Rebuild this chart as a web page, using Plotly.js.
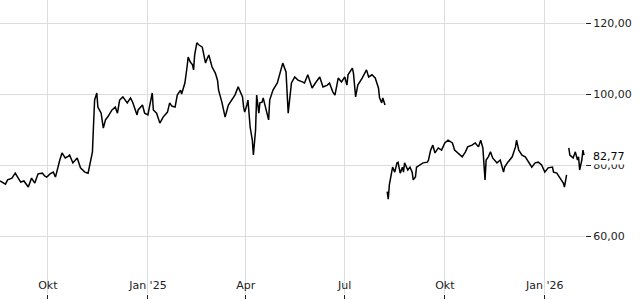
<!DOCTYPE html>
<html>
<head>
<meta charset="utf-8">
<script src="https://cdn.plot.ly/plotly-3.0.1.min.js"></script>
<style>
html,body{margin:0;padding:0;background:#fff;}
#chart{width:640px;height:300px;}
</style>
</head>
<body>
<div id="chart"></div>
<script>
const dates = [
"2024-08-18","2024-08-21","2024-08-23","2024-08-25","2024-08-29","2024-09-01","2024-09-04","2024-09-06","2024-09-09","2024-09-13",
"2024-09-16","2024-09-19","2024-09-22","2024-09-26","2024-09-28","2024-09-30","2024-10-03","2024-10-06","2024-10-08","2024-10-10",
"2024-10-12","2024-10-14","2024-10-17","2024-10-20","2024-10-21","2024-10-24","2024-10-26","2024-10-28","2024-10-31","2024-11-02",
"2024-11-04","2024-11-07","2024-11-09","2024-11-11","2024-11-12","2024-11-13","2024-11-15","2024-11-16","2024-11-19","2024-11-21",
"2024-11-23","2024-11-25","2024-11-29","2024-12-02","2024-12-04","2024-12-06","2024-12-09","2024-12-13","2024-12-16","2024-12-18",
"2024-12-22","2024-12-23","2024-12-27","2024-12-29","2025-01-01","2025-01-05","2025-01-06","2025-01-09","2025-01-12","2025-01-15",
"2025-01-19","2025-01-21","2025-01-23","2025-01-26","2025-01-28","2025-01-31","2025-02-01","2025-02-04","2025-02-06","2025-02-07",
"2025-02-09","2025-02-11","2025-02-12","2025-02-13","2025-02-15","2025-02-17","2025-02-20","2025-02-21","2025-02-23","2025-02-24",
"2025-02-26","2025-03-01","2025-03-04","2025-03-06","2025-03-07","2025-03-10","2025-03-13","2025-03-16","2025-03-19","2025-03-22",
"2025-03-25","2025-03-27","2025-03-29","2025-03-30","2025-03-31","2025-04-02","2025-04-03","2025-04-05","2025-04-07","2025-04-08",
"2025-04-10","2025-04-11","2025-04-13","2025-04-14","2025-04-16","2025-04-17","2025-04-19","2025-04-21","2025-04-22","2025-04-23",
"2025-04-26","2025-04-30","2025-05-02","2025-05-05","2025-05-08","2025-05-10","2025-05-11","2025-05-13","2025-05-16","2025-05-19",
"2025-05-23","2025-05-25","2025-05-28","2025-06-01","2025-06-04","2025-06-08","2025-06-11","2025-06-15","2025-06-17","2025-06-20",
"2025-06-22","2025-06-25","2025-06-28","2025-07-01","2025-07-03","2025-07-04","2025-07-08","2025-07-09","2025-07-11","2025-07-13",
"2025-07-17","2025-07-20","2025-07-21","2025-07-23","2025-07-26","2025-07-29","2025-07-31","2025-08-01","2025-08-02","2025-08-04",
"2025-08-05","2025-08-07","2025-08-08",
"2025-08-09","2025-08-10","2025-08-11","2025-08-13","2025-08-14","2025-08-16","2025-08-18","2025-08-19","2025-08-21","2025-08-23",
"2025-08-24","2025-08-25","2025-08-28","2025-08-30","2025-09-01","2025-09-02","2025-09-04","2025-09-05","2025-09-08","2025-09-11",
"2025-09-15","2025-09-16","2025-09-18","2025-09-20","2025-09-22","2025-09-25","2025-09-28","2025-10-01","2025-10-04","2025-10-08",
"2025-10-10","2025-10-13","2025-10-17","2025-10-20","2025-10-22","2025-10-26","2025-10-29","2025-11-01","2025-11-03","2025-11-05",
"2025-11-07","2025-11-08","2025-11-10","2025-11-12","2025-11-14","2025-11-18","2025-11-21","2025-11-24","2025-11-25","2025-11-28",
"2025-12-02","2025-12-05","2025-12-06","2025-12-08","2025-12-11","2025-12-14","2025-12-16","2025-12-20","2025-12-23","2025-12-26",
"2025-12-29","2026-01-01","2026-01-04","2026-01-08","2026-01-09","2026-01-12","2026-01-15","2026-01-18","2026-01-19","2026-01-20",
"2026-01-21","2026-01-22",
"2026-01-23","2026-01-24","2026-01-27","2026-01-29","2026-01-31","2026-02-01","2026-02-02","2026-02-04","2026-02-05","2026-02-06"
];
const prices = [
75.5,74.9,74.6,75.8,76.3,77.7,76.3,75.2,75.5,73.8,
76.3,74.9,77.5,77.7,76.9,76.6,77.5,78.0,76.6,79.2,
81.4,83.4,82.0,82.5,82.8,80.6,81.4,82.0,79.2,78.6,
78.0,77.7,80.8,83.7,91.3,98.3,100.3,96.3,94.6,90.4,
92.7,93.5,95.5,96.3,94.6,98.3,99.2,97.5,98.9,97.7,
94.1,95.5,96.9,94.6,94.1,100.3,95.5,94.6,91.8,93.5,
94.9,97.5,96.6,96.3,99.7,101.1,100.0,103.1,107.6,110.4,
109.0,108.2,106.8,111.0,114.4,113.8,113.2,111.5,108.7,109.6,
111.0,107.6,105.9,103.9,101.1,97.7,93.5,96.9,98.3,99.7,
102.0,100.6,99.2,96.3,94.9,96.9,98.3,90.7,87.0,82.8,
89.9,99.7,94.6,97.5,97.7,98.9,96.3,94.1,92.7,98.3,
101.1,103.1,105.4,108.7,106.2,94.6,97.5,103.1,104.8,103.9,
103.4,103.1,105.4,101.7,103.1,104.8,102.0,102.5,103.1,100.6,
99.7,104.5,103.4,104.8,102.5,105.4,107.3,105.9,99.2,102.5,
104.5,106.2,106.8,104.8,105.4,104.5,102.5,101.7,98.9,97.5,
98.9,96.9,null,
72.5,70.4,74.4,77.7,79.4,78.0,80.6,80.8,77.7,79.4,
78.0,80.6,78.6,79.4,78.0,75.8,76.6,79.4,80.0,80.6,
80.8,81.4,84.2,85.6,83.4,84.8,84.2,86.2,87.0,86.2,
84.2,83.4,82.3,83.7,85.1,85.6,86.2,85.1,87.0,84.8,
75.8,81.4,82.3,83.7,82.0,80.6,81.4,78.0,79.4,80.8,
82.3,85.1,87.0,84.2,82.8,82.3,81.4,79.4,80.6,80.8,
80.0,78.0,79.2,79.4,78.0,77.7,76.3,74.9,73.8,75.8,
77.2,null,
84.8,82.8,82.0,83.7,81.4,82.3,78.6,81.4,84.2,82.77
];
const xTickVals = ["2024-10-01","2025-01-01","2025-04-01","2025-07-01","2025-10-01","2026-01-01"];
const xTickText = ["Okt","Jan '25","Apr","Jul","Okt","Jan '26"];
const yTickVals = [60, 80, 100, 120];
const lastPrice = prices[prices.length - 1];
const lastLabel = lastPrice.toFixed(2).replace('.', ',');

const font = {family: "DejaVu Sans, sans-serif", size: 11, color: "#222"};

const trace = {
  x: dates, y: prices, type: "scatter", mode: "lines",
  line: {color: "#000", width: 1.5},
  connectgaps: false, hoverinfo: "skip"
};

const layout = {
  width: 640, height: 300,
  margin: {l: 0, r: 55, t: 0, b: 6, pad: 0},
  paper_bgcolor: "#fff", plot_bgcolor: "#fff",
  separators: ",.",
  showlegend: false,
  font: font,
  xaxis: {
    type: "date",
    range: ["2024-08-18", "2026-02-06 22:00"],
    tickvals: xTickVals, ticktext: xTickText,
    ticks: "outside", ticklen: 4, tickcolor: "#222", tickwidth: 1,
    ticklabelposition: "inside",
    showgrid: true, gridcolor: "#dcdcdc", gridwidth: 1,
    showline: false, zeroline: false,
    tickfont: font
  },
  yaxis: {
    side: "right",
    range: [43.66, 126.48],
    tickvals: yTickVals, tickformat: ".2f",
    ticks: "outside", ticklen: 5, tickcolor: "#222", tickwidth: 1,
    showgrid: true, gridcolor: "#dcdcdc", gridwidth: 1,
    showline: false, zeroline: false,
    tickfont: font
  },
  annotations: [{
    xref: "paper", yref: "y", x: 1, y: lastPrice,
    xanchor: "left", yanchor: "middle", xshift: 6, yshift: -1,
    text: lastLabel, showarrow: false,
    bgcolor: "#fff", borderpad: 1,
    font: {family: "DejaVu Sans, sans-serif", size: 11, color: "#000"}
  }]
};

Plotly.newPlot("chart", [trace], layout, {staticPlot: true, displayModeBar: false});
</script>
</body>
</html>
